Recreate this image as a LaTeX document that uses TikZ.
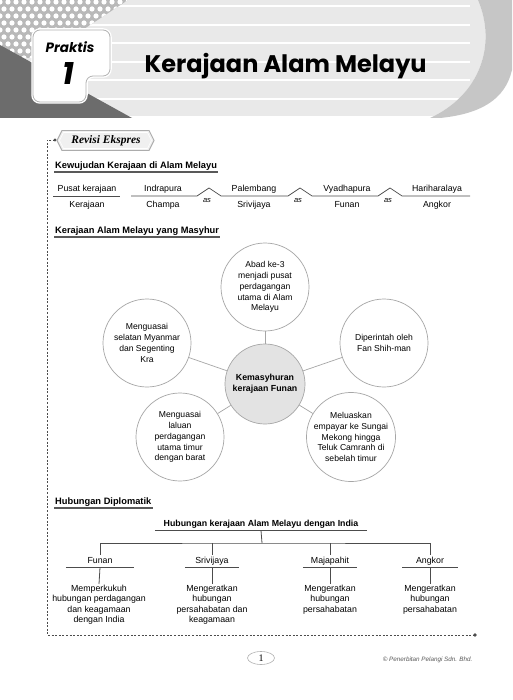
\documentclass[tikz,border=0pt]{standalone}
\usepackage{fontspec}
\setmainfont{Liberation Sans}
\newfontfamily\titlefont{Poppins}
\newfontfamily\tagfont{Liberation Serif}
\usetikzlibrary{positioning,calc}

\tikzset{
  heading/.style={font=\fontsize{9.3}{10}\selectfont\bfseries, inner sep=1pt, anchor=south west},
  headline/.style={draw=gray!70!black, line width=1.3pt},
  rowtext/.style={font=\fontsize{8.8}{10}\selectfont, inner sep=1pt},
  bubble/.style={circle, draw=gray!70, line width=0.7pt, fill=white, minimum size=88pt,
    inner sep=0pt, align=center, font=\fontsize{8.6}{10.8}\selectfont},
  spoke/.style={draw=gray!70, line width=0.7pt},
  kingdom/.style={font=\fontsize{8.8}{10}\selectfont, text height=6pt, text depth=1.5pt, inner sep=2.5pt},
  kingline/.style={draw=gray!60!black, line width=1pt},
  branch/.style={draw=gray!60!black, line width=0.8pt},
  note/.style={font=\fontsize{8.8}{10.3}\selectfont, align=center, anchor=north, inner sep=1pt},
  frame/.style={draw=gray!60!black, line width=0.6pt, dash pattern=on 2pt off 1.6pt}
}

\begin{document}
\begin{tikzpicture}[x=1pt, y=-1pt]
  \useasboundingbox (0,0) rectangle (512,700);
  \fill[white] (0,0) rectangle (512,700);
  % header
  \fill[gray!17] (0,0) -- (478,0) .. controls (497,45) and (480,95) .. (430,118) -- (0,118) -- cycle;
  \foreach \y in {6,25,43,62,80,99,117}
    \draw[white, line width=1.2pt] (0,\y) -- (470,\y);
  \fill[gray!45] (478,0) -- (512,0) -- (512,70) .. controls (505,100) and (480,114) .. (440,118)
        -- (430,118) .. controls (480,95) and (497,45) .. (478,0) -- cycle;
  \begin{scope}
    \clip (0,0) -- (128,0) -- (40,58) -- (0,58) -- cycle;
    \fill[gray!55] (0,0) rectangle (130,60);
    \foreach \i in {0,...,16}
      \foreach \j in {0,...,8}
        \fill[white] ({\i*8+mod(\j,2)*4},{\j*7+2}) circle (2.6);
  \end{scope}
  \fill[gray!85!black] (0,45) -- (132,118) -- (0,118) -- cycle;
  \draw[white, line width=3.5pt, rounded corners=7pt, fill=white]
        (33,30) -- (110,30) -- (110,76) -- (86,76) -- (86,102) -- (33,102) -- cycle;
  \draw[gray!60, line width=0.8pt, rounded corners=7pt]
        (33,30) -- (110,30) -- (110,76) -- (86,76) -- (86,102) -- (33,102) -- cycle;
  \node (praktis) at (70,47) {\titlefont\bfseries\itshape\fontsize{13.5}{14}\selectfont Praktis};
  \node (nombor) at (68,74) {\titlefont\bfseries\itshape\fontsize{31}{31}\selectfont 1};
  \node[anchor=west] (tajuk) at (141,66) {\titlefont\bfseries\fontsize{24}{25}\selectfont Kerajaan Alam Melayu};

  % frame
  \draw[frame] (55,140) -- (47,140) -- (47,635) -- (475,635);
  \fill[gray!60!black] (55,140) circle (1.6);
  \fill[gray!60!black] (475,635) circle (1.8);
  \draw[gray!65, line width=0.9pt, fill=gray!12]
        (57,140.5) -- (62,130.5) -- (149,130.5) -- (154,140.5) -- (149,150.5) -- (62,150.5) -- cycle;
  \draw[white, line width=0.6pt]
        (59.5,140.5) -- (63.5,132.5) -- (147.5,132.5) -- (151.5,140.5) -- (147.5,148.5) -- (63.5,148.5) -- cycle;
  \node (revisi) at (106,140.5) {\tagfont\bfseries\itshape\fontsize{11.5}{12}\selectfont Revisi Ekspres};

  % kewujudan
  \node[heading] (kewujudan) at (54,172) {Kewujudan Kerajaan di Alam Melayu};
  \draw[headline] (kewujudan.south west) -- (kewujudan.south east);
  \draw[gray!60!black, line width=0.7pt] (53,196) -- (120,196);
  \node[rowtext] (pusat) at (87,189) {Pusat kerajaan};
  \node[rowtext] (kerajaan) at (87,205) {Kerajaan};
  \draw[gray!60!black, line width=0.7pt] (131,196) -- (197,196) -- (209,188) -- (221,196)
        -- (288,196) -- (300,188) -- (312,196) -- (378,196) -- (390,188) -- (402,196) -- (470,196);
  \foreach \x/\n in {207/asA, 298/asB, 388/asC}
    \node[font=\fontsize{7.5}{8}\selectfont\itshape, inner sep=0pt] (\n) at (\x,200.5) {as};
  \node[rowtext] (indrapura) at (163,189) {Indrapura};
  \node[rowtext] (champa) at (163,205) {Champa};
  \node[rowtext] (palembang) at (254,189) {Palembang};
  \node[rowtext] (srivijaya) at (254,205) {Srivijaya};
  \node[rowtext] (vyadhapura) at (347,189) {Vyadhapura};
  \node[rowtext] (funanrow) at (347,205) {Funan};
  \node[rowtext] (hariharalaya) at (437,189) {Hariharalaya};
  \node[rowtext] (angkorrow) at (437,205) {Angkor};

  % masyhur
  \node[heading] (masyhur) at (54,237) {Kerajaan Alam Melayu yang Masyhur};
  \draw[headline] (masyhur.south west) -- (masyhur.south east);
  \node[bubble] (abad) at (265,287) {Abad ke-3\\menjadi pusat\\perdagangan\\utama di Alam\\Melayu};
  \node[bubble] (selatan) at (147,343) {Menguasai\\selatan Myanmar\\dan Segenting\\Kra};
  \node[bubble] (fanshih) at (384,343) {Diperintah oleh\\Fan Shih-man};
  \node[bubble] (laluan) at (180,437) {Menguasai\\laluan\\perdagangan\\utama timur\\dengan barat};
  \node[bubble] (empayar) at (351,437) {Meluaskan\\empayar ke Sungai\\Mekong hingga\\Teluk Camranh di\\sebelah timur};
  \node[bubble, fill=gray!22, minimum size=80pt, font=\fontsize{8.8}{11}\selectfont\bfseries] (funan) at (265,384) {Kemasyhuran\\kerajaan Funan};
  \foreach \n in {abad, selatan, fanshih, laluan, empayar}
    \draw[spoke] (funan) -- (\n);

  % diplomatik
  \node[heading] (diplomatik) at (54,508) {Hubungan Diplomatik};
  \draw[headline] (diplomatik.south west) -- (diplomatik.south east);
  \node[font=\fontsize{8.8}{10}\selectfont\bfseries, minimum width=212pt, text height=6pt, text depth=1.5pt, inner sep=2.5pt] (india) at (261,524) {Hubungan kerajaan Alam Melayu dengan India};
  \draw[kingline, line width=1.5pt] (india.south west) -- (india.south east);
  \coordinate (simpang) at (262,543);
  \draw[branch] (india.south) -- (simpang);
  \node[kingdom, minimum width=68pt] (tfunan) at (100,561) {Funan};
  \node[kingdom, minimum width=54pt] (tsrivijaya) at (212,561) {Srivijaya};
  \node[kingdom, minimum width=54pt] (tmajapahit) at (330,561) {Majapahit};
  \node[kingdom, minimum width=55pt] (tangkor) at (430,561) {Angkor};
  \draw[branch] (tfunan.north) |- (simpang) -| (tangkor.north);
  \draw[branch] (tsrivijaya.north) -- (tsrivijaya.north |- simpang);
  \draw[branch] (tmajapahit.north) -- (tmajapahit.north |- simpang);
  \node[note] (nfunan) at (99,584) {Memperkukuh\\hubungan perdagangan\\dan keagamaan\\dengan India};
  \node[note] (nsrivijaya) at (212,584) {Mengeratkan\\hubungan\\persahabatan dan\\keagamaan};
  \node[note] (nmajapahit) at (330,584) {Mengeratkan\\hubungan\\persahabatan};
  \node[note] (nangkor) at (430,584) {Mengeratkan\\hubungan\\persahabatan};
  \foreach \k/\n in {tfunan/nfunan, tsrivijaya/nsrivijaya, tmajapahit/nmajapahit, tangkor/nangkor} {
    \draw[kingline] (\k.south west) -- (\k.south east);
    \draw[branch] (\k.south) -- (\n.north);
  }

  % footer
  \draw[gray!60, line width=0.6pt] (261,658) ellipse (13.5 and 6.5);
  \node[inner sep=0pt] (halaman) at (261,658) {\tagfont\fontsize{10}{10}\selectfont 1};
  \node[anchor=east, font=\fontsize{6.3}{7}\selectfont\itshape, text=gray!70!black] (hakcipta) at (476,660) {© Penerbitan Pelangi Sdn. Bhd.};
\end{tikzpicture}
\end{document}
